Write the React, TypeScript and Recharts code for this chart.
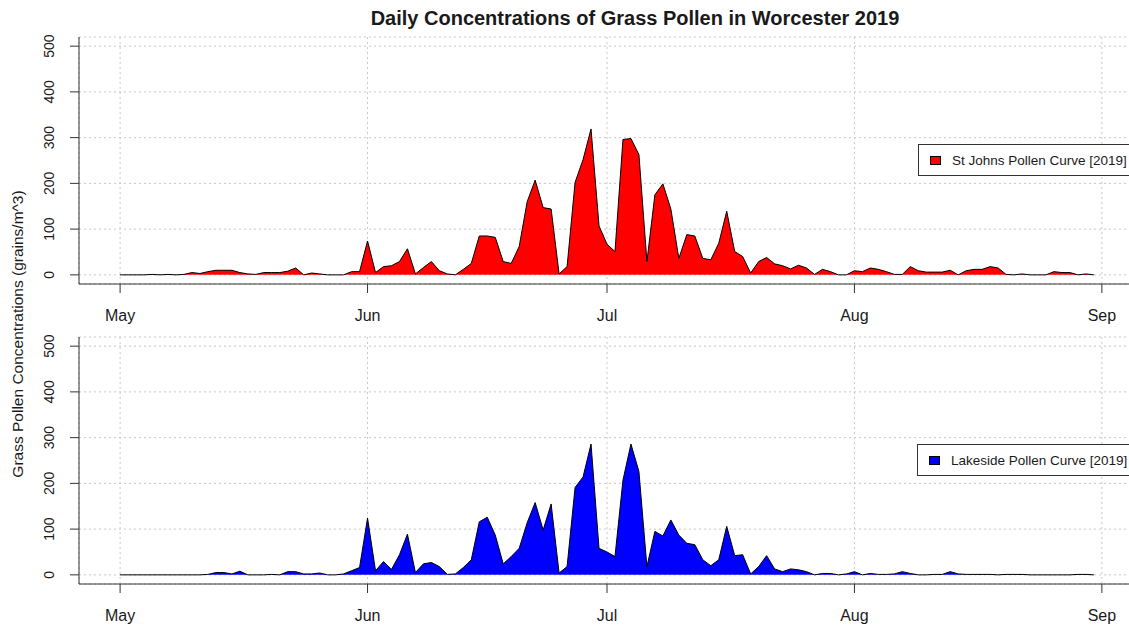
import { Area, AreaChart, CartesianGrid, Legend, XAxis, YAxis } from "recharts"

const FONT = '"Liberation Sans", Arial, sans-serif'
const AXIS = "#333"
const TEXT = "#1a1a1a"

const MONTHS = ["May", "Jun", "Jul", "Aug", "Sep"]
const Y_TICKS = [0, 100, 200, 300, 400, 500]

// daily counts from 1 May 2019 to 31 Aug 2019
const ST_JOHNS = [
  0, 0, 0, 0, 1, 0, 1, 0, 1, 5, 3, 7, 10, 10, 10, 5, 2, 1, 5, 5, 5, 8, 15, 0, 4, 2, 0, 0, 0, 7, 7,
  74, 5, 18, 20, 29, 57, 2, 16, 29, 9, 2, 0, 12, 25, 85, 85, 82, 29, 25, 62, 160, 207, 147, 144, 2, 18, 202, 252, 319, 107,
  67, 51, 296, 298, 263, 29, 175, 199, 144, 36, 88, 85, 36, 33, 69, 139, 51, 40, 4, 29, 38, 24, 20, 13, 21, 15, 1, 12, 7, 0, 0,
  9, 7, 15, 12, 7, 1, 1, 18, 9, 6, 6, 6, 10, 0, 9, 12, 12, 18, 15, 1, 0, 2, 0, 0, 0, 7, 5, 5, 0, 2, 0,
]

const LAKESIDE = [
  0, 0, 0, 0, 0, 0, 0, 0, 0, 0, 0, 1, 5, 5, 2, 8, 0, 0, 0, 1, 0, 7, 7, 2, 2, 4, 0, 0, 2, 9, 16,
  124, 9, 29, 12, 44, 89, 5, 24, 27, 18, 1, 2, 16, 33, 116, 126, 87, 24, 40, 58, 114, 158, 98, 155, 4, 18, 191, 214, 286, 58,
  50, 40, 207, 286, 226, 18, 95, 85, 120, 87, 69, 66, 33, 20, 33, 106, 42, 44, 2, 18, 42, 13, 7, 13, 11, 7, 0, 3, 3, 0, 2,
  7, 0, 3, 1, 1, 2, 7, 3, 0, 0, 1, 1, 7, 2, 1, 1, 1, 1, 0, 1, 1, 1, 0, 0, 0, 0, 0, 0, 1, 1, 0,
]

const DAY_MS = 86400000
const START = Date.UTC(2019, 4, 1)
const MONTH_TICKS = MONTHS.map((_, i) => (Date.UTC(2019, 4 + i, 1) - START) / DAY_MS)

function XTick({ x, y, payload }: any) {
  const idx = MONTH_TICKS.indexOf(payload.value)
  return (
    <text x={x} y={y + 28} textAnchor="middle" fontSize={16} fontFamily={FONT} fill={TEXT}>
      {MONTHS[idx]}
    </text>
  )
}

function YTick({ x, y, payload }: any) {
  const cx = x - 21
  return (
    <text
      x={cx}
      y={y}
      transform={`rotate(-90, ${cx}, ${y})`}
      textAnchor="middle"
      dominantBaseline="central"
      fontSize={14}
      fontFamily={FONT}
      fill={TEXT}
    >
      {payload.value}
    </text>
  )
}

function LegendBox({ label, color }: { label: string; color: string }) {
  return (
    <div
      style={{
        width: 240,
        height: 30,
        border: `1px solid ${AXIS}`,
        background: "#fff",
        display: "flex",
        alignItems: "center",
        fontFamily: FONT,
        fontSize: 13.5,
        color: TEXT,
        whiteSpace: "nowrap",
      }}
    >
      <span
        style={{
          display: "inline-block",
          width: 9,
          height: 7,
          background: color,
          border: "1px solid #000",
          marginLeft: 11,
          marginRight: 11,
        }}
      />
      {label}
    </div>
  )
}

function Panel({
  values,
  color,
  label,
  top,
  legendLeft,
}: {
  values: number[]
  color: string
  label: string
  top: number
  legendLeft: number
}) {
  const data = values.map((v, i) => ({ day: i, value: v }))
  const xDomain = [-5.15, 126.9]
  return (
    <div style={{ position: "absolute", left: 0, top }}>
      <AreaChart width={1140} height={330} data={data} margin={{ top: 37, right: 7, bottom: 0, left: 0 }}>
        <CartesianGrid stroke="#c8c8c8" strokeDasharray="2 3" />
        <XAxis
          dataKey="day"
          type="number"
          domain={xDomain}
          allowDataOverflow
          ticks={MONTH_TICKS}
          interval={0}
          height={46}
          tickSize={9}
          tickMargin={0}
          tickLine={{ stroke: AXIS }}
          axisLine={{ stroke: AXIS }}
          tick={XTick}
        />
        <XAxis
          xAxisId="top"
          orientation="top"
          dataKey="day"
          type="number"
          domain={xDomain}
          allowDataOverflow
          height={0}
          tick={false}
          tickLine={false}
          axisLine={{ stroke: AXIS }}
        />
        <YAxis
          domain={[-20, 520]}
          allowDataOverflow
          ticks={Y_TICKS}
          interval={0}
          width={79}
          tickSize={9}
          tickMargin={0}
          tickLine={{ stroke: AXIS }}
          axisLine={{ stroke: AXIS }}
          tick={YTick}
        />
        <Area
          type="linear"
          dataKey="value"
          baseValue={0}
          fill={color}
          fillOpacity={1}
          stroke="#000"
          strokeWidth={1}
          dot={false}
          activeDot={false}
          isAnimationActive={false}
        />
        <Legend
          layout="vertical"
          align="center"
          verticalAlign="middle"
          wrapperStyle={{ left: legendLeft, top: 144 }}
          content={() => <LegendBox label={label} color={color} />}
        />
      </AreaChart>
    </div>
  )
}

export default function App() {
  return (
    <div
      style={{
        position: "absolute",
        left: 0,
        top: 0,
        width: 1129,
        height: 628,
        overflow: "hidden",
        background: "#fff",
        fontFamily: FONT,
      }}
    >
      <Panel values={ST_JOHNS} color="#ff0000" label="St Johns Pollen Curve [2019]" top={0} legendLeft={918} />
      <Panel values={LAKESIDE} color="#0000ff" label="Lakeside Pollen Curve [2019]" top={300} legendLeft={917} />
      <div
        style={{
          position: "absolute",
          left: 335,
          top: 8,
          width: 600,
          textAlign: "center",
          fontWeight: "bold",
          fontSize: 20,
          lineHeight: "20px",
          color: TEXT,
        }}
      >
        Daily Concentrations of Grass Pollen in Worcester 2019
      </div>
      <div
        style={{
          position: "absolute",
          left: 18,
          top: 334,
          transform: "translate(-50%, -50%) rotate(-90deg)",
          whiteSpace: "nowrap",
          fontSize: 15.5,
          color: TEXT,
        }}
      >
        Grass Pollen Concentrations (grains/m^3)
      </div>
    </div>
  )
}
